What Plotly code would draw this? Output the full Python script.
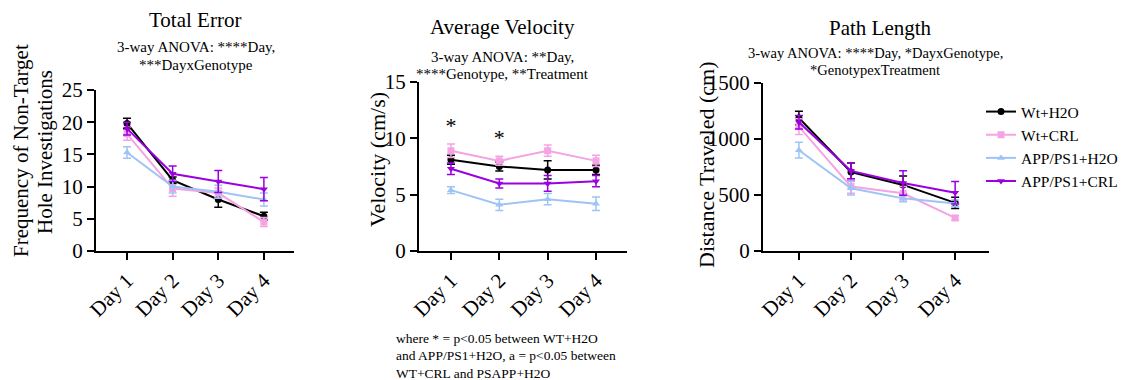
import plotly.graph_objects as go

W, H = 1131, 380
OX, OY = 8, 8          # browser body margin: the figure is drawn offset by this much
FW, FH = W - OX, H - OY

days = ["Day 1", "Day 2", "Day 3", "Day 4"]
xpos = [0, 1, 2, 3]

groups = ["Wt+H2O", "Wt+CRL", "APP/PS1+H2O", "APP/PS1+CRL"]
colors = ["#000000", "#f4a3e3", "#9ec4f6", "#9b00e0"]
symbols = ["circle", "square", "triangle-up", "triangle-down"]

# Total Error (Frequency of Non-Target Hole Investigations)
err_mean = {
    "Wt+H2O": [19.8, 11.0, 8.0, 5.4],
    "Wt+CRL": [18.2, 9.7, 9.0, 4.5],
    "APP/PS1+H2O": [15.3, 10.0, 9.2, 8.0],
    "APP/PS1+CRL": [19.0, 12.0, 10.8, 9.6],
}
err_sem = {
    "Wt+H2O": [0.8, 0.5, 1.2, 0.6],
    "Wt+CRL": [1.0, 1.2, 0.8, 0.7],
    "APP/PS1+H2O": [0.9, 1.0, 1.0, 1.0],
    "APP/PS1+CRL": [1.0, 1.2, 1.7, 1.8],
}

# Average Velocity (cm/s)
vel_mean = {
    "Wt+H2O": [8.1, 7.5, 7.2, 7.2],
    "Wt+CRL": [8.9, 8.0, 8.9, 8.0],
    "APP/PS1+H2O": [5.4, 4.1, 4.6, 4.2],
    "APP/PS1+CRL": [7.3, 6.0, 6.0, 6.2],
}
vel_sem = {
    "Wt+H2O": [0.4, 0.4, 0.8, 0.4],
    "Wt+CRL": [0.6, 0.4, 0.5, 0.5],
    "APP/PS1+H2O": [0.3, 0.5, 0.5, 0.6],
    "APP/PS1+CRL": [0.5, 0.4, 0.7, 0.5],
}
star_days = [0, 1]
star_y = [11.0, 9.9]

# Path Length (cm)
path_mean = {
    "Wt+H2O": [1187, 705, 590, 430],
    "Wt+CRL": [1110, 575, 515, 295],
    "APP/PS1+H2O": [900, 560, 470, 425],
    "APP/PS1+CRL": [1150, 715, 607, 520],
}
path_sem = {
    "Wt+H2O": [60, 80, 80, 50],
    "Wt+CRL": [70, 60, 60, 20],
    "APP/PS1+H2O": [70, 60, 30, 30],
    "APP/PS1+CRL": [60, 70, 110, 100],
}

FONT = "Liberation Serif, Times New Roman, serif"

fig = go.Figure()

panels = [
    ("x", "y", err_mean, err_sem),
    ("x2", "y2", vel_mean, vel_sem),
    ("x3", "y3", path_mean, path_sem),
]
for pi, (xa, ya, means, sems) in enumerate(panels):
    for gi, g in enumerate(groups):
        fig.add_trace(go.Scatter(
            x=xpos, y=means[g], xaxis=xa, yaxis=ya,
            mode="lines+markers", name=g, showlegend=(pi == 2),
            legendrank=gi,
            line=dict(color=colors[gi], width=2),
            marker=dict(symbol=symbols[gi], size=7, color=colors[gi]),
            error_y=dict(type="data", array=sems[g], color=colors[gi],
                         thickness=1.5, width=4),
        ))

fig.add_trace(go.Scatter(
    x=star_days, y=star_y, xaxis="x2", yaxis="y2", mode="text",
    text=["*"] * len(star_days), textfont=dict(family=FONT, size=22, color="black"),
    showlegend=False, hoverinfo="skip",
))

def fx(p):
    return (p - OX) / FW

def fy(p):
    return 1 - (p - OY) / FH

def px_x(a, b):
    return [fx(a), fx(b)]

def px_y(top, bottom):
    return [fy(bottom), fy(top)]

axis_common = dict(
    showline=True, linecolor="black", linewidth=2, ticks="outside",
    ticklen=7, tickwidth=2, tickcolor="black", showgrid=False, zeroline=False,
    automargin=False,
    tickfont=dict(family=FONT, size=21, color="black"),
)
xcommon = dict(axis_common, tickvals=xpos, ticktext=days, tickangle=-45)

fig.update_layout(
    template="none",
    width=FW, height=FH, margin=dict(l=0, r=0, t=0, b=0, pad=0, autoexpand=False),
    paper_bgcolor="white", plot_bgcolor="white",
    font=dict(family=FONT, color="black"),
    xaxis=dict(xcommon, domain=px_x(96, 294), range=[-0.68, 3.66], anchor="y"),
    yaxis=dict(axis_common, domain=px_y(90, 251), range=[0, 25], dtick=5, anchor="x"),
    xaxis2=dict(xcommon, domain=px_x(419, 627), range=[-0.66, 3.64], anchor="y2"),
    yaxis2=dict(axis_common, domain=px_y(82, 251), range=[0, 15], dtick=5, anchor="x2"),
    xaxis3=dict(xcommon, domain=px_x(763, 989), range=[-0.69, 3.65], anchor="y3"),
    yaxis3=dict(axis_common, domain=px_y(83, 251), range=[0, 1500], dtick=500, anchor="x3"),
    legend=dict(x=fx(981), y=fy(95), xanchor="left", yanchor="top",
                font=dict(family=FONT, size=15.5, color="black"),
                bgcolor="rgba(0,0,0,0)", tracegroupgap=0, itemwidth=30),
    showlegend=True,
)

def ann(text, xpx, ypx, size, angle=0, xanchor="center"):
    fig.add_annotation(text=text, x=fx(xpx), y=fy(ypx), xref="paper", yref="paper",
                       showarrow=False, textangle=angle, align="left" if xanchor == "left" else "center",
                       xanchor=xanchor, yanchor="middle", borderpad=0,
                       font=dict(family=FONT, size=size, color="black"))

ann("Total Error", 195, 20, 21)
ann("3-way ANOVA: ****Day,", 196, 47, 15)
ann("***DayxGenotype", 196, 65, 15)
ann("Average Velocity", 502, 27, 21)
ann("3-way ANOVA: **Day,", 502, 57, 15)
ann("****Genotype, **Treatment", 502, 74, 15)
ann("Path Length", 880, 28, 21)
ann("3-way ANOVA: ****Day, *DayxGenotype,", 875, 53, 14.5)
ann("*GenotypexTreatment", 875, 70, 14.5)

ann("Frequency of Non-Target", 21, 151, 21, angle=-90)
ann("Hole Investigations", 45, 152, 21, angle=-90)
ann("Velocity (cm/s)", 377, 160, 22, angle=-90)
ann("Distance Traveled (cm)", 706, 165, 22, angle=-90)

ann("where * = p&lt;0.05 between WT+H2O", 395, 338, 13.5, xanchor="left")
ann("and APP/PS1+H2O, a = p&lt;0.05 between", 395, 355, 13.5, xanchor="left")
ann("WT+CRL and PSAPP+H2O", 395, 373, 13.5, xanchor="left")

fig.write_html("out.html")
